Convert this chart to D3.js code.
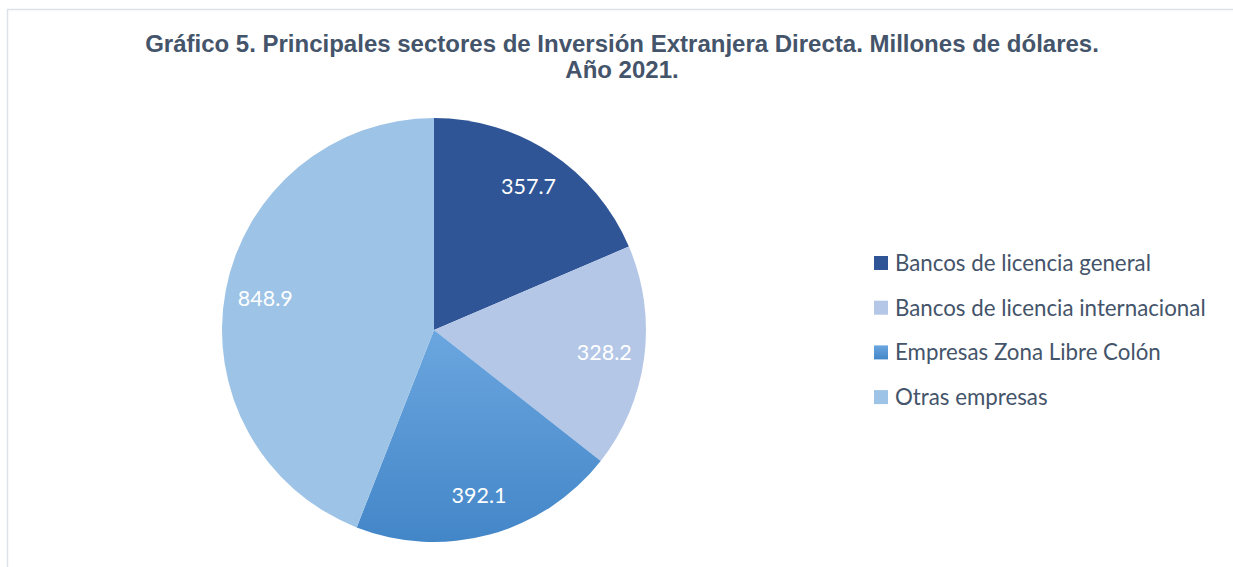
<!DOCTYPE html>
<html>
<head>
<meta charset="utf-8">
<script src="https://cdn.jsdelivr.net/npm/d3@7"></script>
<style>
  body { margin: 0; background: #fff; }
  svg { display: block; }
</style>
</head>
<body>
<svg id="chart" width="1233" height="567"></svg>
<script>
var sectors = ["Bancos de licencia general", "Bancos de licencia internacional", "Empresas Zona Libre Colón", "Otras empresas"];
var values = [357.7, 328.2, 392.1, 848.9];
var colors = ["#2F5597", "#B4C7E7", "url(#grad3)", "#9DC3E6"];
var titleLines = ["Gráfico 5. Principales sectores de Inversión Extranjera Directa. Millones de dólares.", "Año 2021."];

var svg = d3.select("#chart"),
  width = +svg.attr("width"),
  height = +svg.attr("height");

// gradient for third slice
var defs = svg.append("defs");
var grad = defs.append("linearGradient")
  .attr("id", "grad3")
  .attr("x1", 0).attr("y1", 0).attr("x2", 0).attr("y2", 1);
grad.append("stop").attr("offset", "0%").attr("stop-color", "#6BA6DF");
grad.append("stop").attr("offset", "100%").attr("stop-color", "#4386C8");

// frame
svg.append("rect")
  .attr("x", 7.5).attr("y", 9.5)
  .attr("width", width + 10).attr("height", height + 10)
  .attr("fill", "#fff")
  .attr("stroke", "#DEE2E6")
  .attr("stroke-width", 1.5);

svg.append("g").selectAll("text")
  .data(titleLines)
  .join("text")
    .attr("x", 622)
    .attr("y", (d, i) => 52 + i * 26)
    .attr("text-anchor", "middle")
    .attr("fill", "#44546A")
    .style("font-family", "'Liberation Sans', Arial, sans-serif")
    .style("font-weight", "bold")
    .style("font-size", "24px")
    .text(d => d);

var radius = 212;
var g = svg.append("g").attr("transform", "translate(434,330)");

var pie = d3.pie().sort(null).value(d => d);
var arc = d3.arc().innerRadius(0).outerRadius(radius);
var labelArc = d3.arc().innerRadius(radius * 0.81).outerRadius(radius * 0.81);

var arcs = pie(values);

g.selectAll("path")
  .data(arcs)
  .join("path")
    .attr("d", arc)
    .attr("fill", (d, i) => colors[i]);

g.selectAll("text")
  .data(arcs)
  .join("text")
    .attr("transform", d => "translate(" + labelArc.centroid(d) + ")")
    .attr("text-anchor", "middle")
    .attr("dy", "0.35em")
    .attr("fill", "#fff")
    .style("font-family", "Lato, 'Open Sans', sans-serif")
    .style("font-size", "21.5px")
    .text(d => d.data.toFixed(1));

// legend
var legend = svg.append("g").attr("transform", "translate(874,263)");
var rows = legend.selectAll("g")
  .data(sectors)
  .join("g")
    .attr("transform", (d, i) => "translate(0," + (i * 44.7) + ")");

rows.append("rect")
  .attr("x", 0).attr("y", -7)
  .attr("width", 14).attr("height", 14)
  .attr("fill", (d, i) => i === 2 ? "url(#grad3)" : colors[i]);

rows.append("text")
  .attr("x", 21)
  .attr("dy", "0.35em")
  .attr("fill", "#44546A")
  .style("font-family", "Lato, 'Open Sans', sans-serif")
  .style("font-size", "22.3px")
  .text(d => d);
</script>
</body>
</html>
